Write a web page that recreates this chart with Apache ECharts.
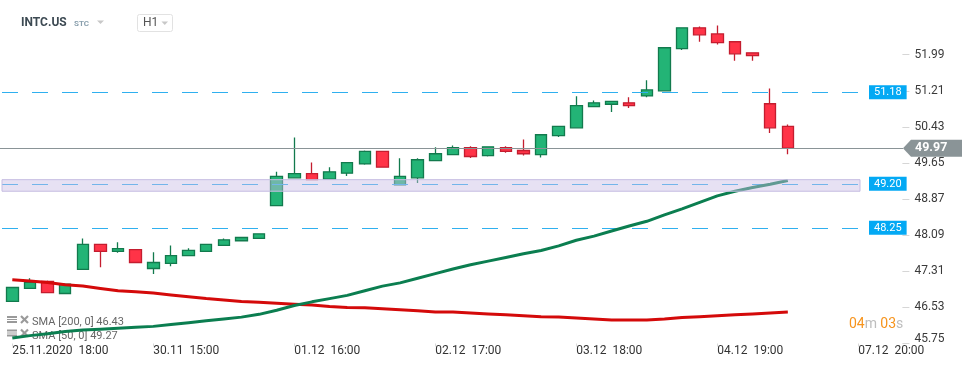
<!DOCTYPE html>
<html><head><meta charset="utf-8">
<script src="https://cdn.jsdelivr.net/npm/echarts@6/dist/echarts.min.js"></script>
<style>html,body{margin:0;padding:0;background:#fff}#c{width:974px;height:368px}</style>
</head><body><div id="c"></div>
<script>
// ---- data ----
const categories = [
  '25.11.2020  18:00','25.11  19:00','25.11  20:00','25.11  21:00',
  '27.11  15:00','27.11  16:00','27.11  17:00','27.11  18:00',
  '30.11  15:00','30.11  16:00','30.11  17:00','30.11  18:00','30.11  19:00','30.11  20:00','30.11  21:00',
  '01.12  15:00','01.12  16:00','01.12  17:00','01.12  18:00','01.12  19:00','01.12  20:00','01.12  21:00',
  '02.12  15:00','02.12  16:00','02.12  17:00','02.12  18:00','02.12  19:00','02.12  20:00','02.12  21:00',
  '03.12  15:00','03.12  16:00','03.12  17:00','03.12  18:00','03.12  19:00','03.12  20:00','03.12  21:00',
  '04.12  15:00','04.12  16:00','04.12  17:00','04.12  18:00','04.12  19:00','04.12  20:00','04.12  21:00',
  '07.12  15:00','07.12  16:00','07.12  17:00','07.12  18:00','07.12  19:00','07.12  20:00','07.12  21:00',
  '08.12  15:00'
];
const openV  = [46.66,46.94,47.09,46.83,47.35,47.89,47.74,47.78,47.37,47.48,47.65,47.74,47.87,47.97,48.02,
                48.73,49.33,49.42,49.30,49.43,49.63,49.90,49.18,49.33,49.70,49.83,49.98,49.81,49.98,49.92,
                49.83,50.24,50.41,50.87,50.92,50.95,51.10,51.21,52.12,52.57,52.44,52.27,52.03,50.93,50.44];
const closeV = [46.96,47.07,46.85,47.03,47.89,47.74,47.80,47.50,47.50,47.65,47.76,47.89,47.99,48.04,48.12,
                49.36,49.42,49.29,49.46,49.66,49.90,49.56,49.36,49.72,49.85,49.98,49.79,50.00,49.90,49.85,
                50.26,50.44,50.89,50.95,50.98,50.89,51.23,52.14,52.57,52.42,52.25,52.01,51.97,50.41,49.97];
const lowV   = [46.66,46.94,46.85,46.83,47.35,47.40,47.71,47.50,47.25,47.42,47.65,47.74,47.87,47.97,48.02,
                48.73,49.33,49.29,49.30,49.37,49.61,49.56,49.18,49.22,49.70,49.83,49.76,49.79,49.87,49.81,
                49.77,50.21,50.41,50.87,50.75,50.84,51.07,51.21,52.09,52.27,52.21,51.86,51.86,50.30,49.84];
const highV  = [46.96,47.16,47.11,47.03,48.02,47.89,47.94,47.78,47.72,47.87,47.81,47.89,48.02,48.04,48.12,
                49.46,50.20,49.66,49.56,49.66,49.92,49.90,49.75,49.75,49.99,50.03,50.01,50.00,50.01,50.16,
                50.26,50.44,51.09,51.00,50.98,51.07,51.44,52.14,52.57,52.60,52.62,52.27,52.03,51.26,50.48];
const sma200 = [47.13,47.10,47.07,47.02,46.99,46.94,46.89,46.87,46.84,46.80,46.76,46.72,46.69,46.66,46.64,
                46.62,46.60,46.58,46.55,46.53,46.52,46.50,46.48,46.46,46.43,46.43,46.41,46.39,46.37,46.35,
                46.33,46.32,46.30,46.28,46.26,46.26,46.26,46.28,46.31,46.33,46.35,46.37,46.39,46.41,46.43];
const sma50  = [45.87,45.92,45.96,46.01,46.04,46.06,46.08,46.10,46.12,46.16,46.20,46.24,46.28,46.32,46.38,
                46.47,46.57,46.65,46.72,46.79,46.89,46.99,47.06,47.16,47.26,47.36,47.45,47.53,47.61,47.69,
                47.76,47.86,47.98,48.07,48.18,48.29,48.39,48.53,48.66,48.80,48.94,49.04,49.12,49.19,49.27];
const yTicks = [45.75, 46.53, 47.31, 48.09, 48.87, 49.65, 50.43, 51.21, 51.99];
const levels = [51.18, 49.20, 48.25];
const zone = [49.04, 49.29];
const lastPrice = 49.97;
const yMin = 45.75, yMax = 53.172;
const legendTexts = ['SMA [200, 0] 46.43', 'SMA [50, 0] 49.27'];
const headerSymbol = 'INTC.US', headerType = 'STC', headerTf = 'H1';
const countdown = ['04', 'm', '03', 's'];

// ---- chart ----
const FONT = 'Roboto, "Noto Sans", sans-serif';
const chart = echarts.init(document.getElementById('c'), null, {renderer: 'canvas'});
const ohlc = openV.map((o, i) => [o, closeV[i], lowV[i], highV[i]]);
const dash = {type: [16, 14], width: 1};

chart.setOption({
  animation: false,
  backgroundColor: '#ffffff',
  textStyle: {fontFamily: FONT},
  grid: {left: 3.5, right: 71.6, top: 0, bottom: 24.5, containLabel: false},
  xAxis: {
    type: 'category', data: categories, boundaryGap: true,
    axisLine: {show: false},
    axisTick: {show: true, alignWithLabel: true, interval: 7, length: 3, lineStyle: {color: '#d9d9d9'}},
    axisLabel: {interval: 7, align: 'left', margin: 1.5, color: '#333', fontSize: 12, fontFamily: FONT},
    splitLine: {show: false}
  },
  yAxis: {
    type: 'value', position: 'right', min: yMin, max: yMax,
    axisLine: {show: false},
    axisTick: {show: true, length: 7, customValues: yTicks, lineStyle: {color: '#d6d6d6'}},
    splitLine: {show: false},
    axisLabel: {
      customValues: yTicks,
      margin: 12, color: '#3a3a3a', fontSize: 12, fontFamily: FONT,
      formatter: v => Math.abs(v - yTicks[0]) < 1e-6 ? '{lo|' + v.toFixed(2) + '}' : v.toFixed(2),
      rich: {lo: {fontSize: 12, color: '#3a3a3a', fontFamily: FONT, padding: [0, 0, 10, 0]}}
    }
  },
  series: [
    {
      type: 'candlestick', data: ohlc, barWidth: 12, z: 2,
      itemStyle: {color: '#23b476', color0: '#ff3347', borderColor: '#127a4d', borderColor0: '#c41d2f', borderWidth: 1.3},
      markLine: {
        silent: true, symbol: 'none', z: 3,
        data: [
          ...levels.map(v => [
            {name: v.toFixed(2), x: 2, yAxis: v},
            {x: 860, yAxis: v}
          ]),
          [{name: '', yAxis: lastPrice, x: 0}, {x: 903, yAxis: lastPrice,
            lineStyle: {type: 'solid', color: '#8a9497', width: 1}, label: {show: false}}]
        ],
        lineStyle: Object.assign({color: '#2fb0ef'}, dash),
        label: {
          show: true, position: 'end', distance: 9, formatter: '{b}',
          backgroundColor: '#03a9f4', color: '#fff', fontSize: 11, fontFamily: FONT,
          padding: [2, 5, 1, 5], lineHeight: 11
        }
      },
      markArea: {
        silent: true, z: 4,
        itemStyle: {color: 'rgba(202,188,228,0.45)', borderColor: '#c6bde2', borderWidth: 1},
        label: {show: false},
        data: [[{x: 2, yAxis: zone[1]}, {x: 860, yAxis: zone[0]}]]
      }
    },
    {
      type: 'line', data: sma200, symbol: 'none', z: 3,
      lineStyle: {color: '#d40a0a', width: 3}, itemStyle: {color: '#d40a0a'}
    },
    {
      type: 'line', data: sma50, symbol: 'none', z: 3,
      lineStyle: {color: '#0b7e50', width: 3}, itemStyle: {color: '#0b7e50'}
    }
  ]
});

const yc = chart.convertToPixel({yAxisIndex: 0}, lastPrice);

function listIcon(x, y) {
  return [
    {type: 'rect', shape: {x: x, y: y, width: 10, height: 2}, style: {fill: '#9a9a9a'}},
    {type: 'rect', shape: {x: x, y: y + 3, width: 10, height: 1}, style: {fill: '#9a9a9a'}},
    {type: 'rect', shape: {x: x, y: y + 5, width: 10, height: 2}, style: {fill: '#9a9a9a'}}
  ];
}
function xIcon(cx, cy) {
  return [
    {type: 'line', shape: {x1: cx - 3.5, y1: cy - 3.5, x2: cx + 3.5, y2: cy + 3.5}, style: {stroke: '#9a9a9a', lineWidth: 2.2}},
    {type: 'line', shape: {x1: cx - 3.5, y1: cy + 3.5, x2: cx + 3.5, y2: cy - 3.5}, style: {stroke: '#9a9a9a', lineWidth: 2.2}}
  ];
}

const g = [];
// header
g.push({type: 'text', left: 21, top: 17, style: {text: headerSymbol, font: 'bold 12px ' + FONT, fill: '#3d4a53'}});
g.push({type: 'text', left: 74, top: 20, style: {text: headerType, font: 'bold 8px ' + FONT, fill: '#8aa0ae'}});
g.push({type: 'polygon', shape: {points: [[97, 20.5], [104, 20.5], [100.5, 24]]}, style: {fill: '#c8c8c8'}});
g.push({type: 'rect', shape: {x: 137.5, y: 14.5, width: 35, height: 17, r: 2}, style: {fill: '#fff', stroke: '#e2e2e2', lineWidth: 1}});
g.push({type: 'text', left: 143, top: 17, style: {text: headerTf, font: '12px ' + FONT, fill: '#555'}});
g.push({type: 'polygon', shape: {points: [[161.5, 21.5], [168, 21.5], [164.75, 25]]}, style: {fill: '#c8c8c8'}});
// legend (under series)
legendTexts.forEach((t, i) => {
  const y = 316 + i * 13.5;
  listIcon(7, y).forEach(e => g.push(e));
  xIcon(24.5, y + 3.5).forEach(e => g.push(e));
  g.push({type: 'text', left: 32, top: y + 1, style: {text: t, font: '11px ' + FONT, fill: '#666'}});
});
// last price tag
g.push({type: 'polygon', shape: {points: [[903, yc], [911, yc - 8.5], [962, yc - 8.5], [962, yc + 8.5], [911, yc + 8.5]]},
        style: {fill: '#8a9497'}, z: 10});
g.push({type: 'text', x: 915, y: yc, style: {text: lastPrice.toFixed(2), font: 'bold 12.5px ' + FONT, fill: '#fff', verticalAlign: 'middle'}, z: 11});
// countdown
g.push({type: 'text', x: 849, y: 324, style: {
  text: '{o|' + countdown[0] + '}{g|' + countdown[1] + '} {o|' + countdown[2] + '}{g|' + countdown[3] + '}',
  verticalAlign: 'middle',
  rich: {o: {fontSize: 14, fontFamily: FONT, fill: '#f7941d', color: '#f7941d'}, g: {fontSize: 14, fontFamily: FONT, fill: '#bdbdbd', color: '#bdbdbd'}}
}});

chart.setOption({graphic: {elements: g}});
</script>
</body></html>
